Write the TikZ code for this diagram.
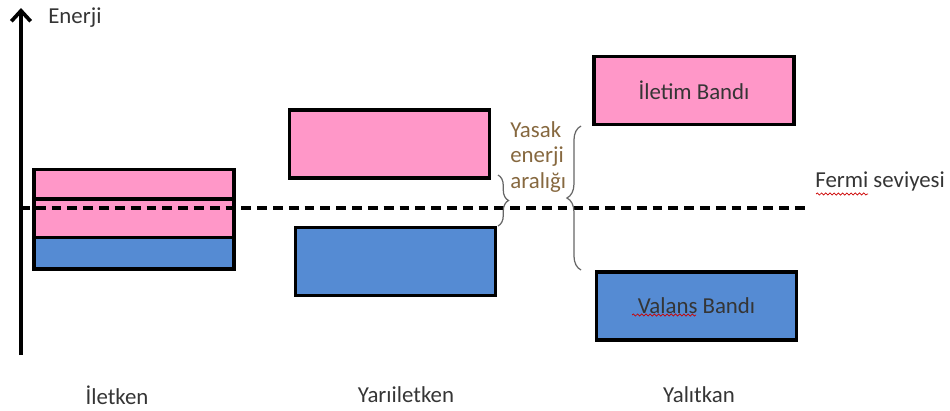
\documentclass[tikz,border=0pt]{standalone}
\usepackage{fontspec}
\setmainfont{Carlito}
\usetikzlibrary{arrows.meta,decorations.pathreplacing,decorations.pathmorphing}

\definecolor{cbpink}{HTML}{FF97C8}
\definecolor{vbblue}{HTML}{558BD3}
\definecolor{txtgray}{HTML}{353535}
\definecolor{gaptxt}{HTML}{86683F}

\tikzset{
  band/.style={draw, line width=2.2pt, minimum width=4cm, minimum height=1.36cm, inner sep=0pt},
  cband/.style={band, fill=cbpink},
  vband/.style={band, fill=vbblue},
  lbl/.style={font=\fontsize{13}{14.5}\selectfont, text=txtgray, inner sep=0pt},
  gapbrace/.style={decorate, draw=gray!80!black, line width=0.7pt},
  fermiline/.style={line width=2.3pt, dash pattern=on 5.6pt off 3.4pt},
  squiggle/.style={red!80!black, line width=0.4pt, decorate,
    decoration={snake, segment length=2.4pt, amplitude=0.6pt}}
}

\begin{document}
\begin{tikzpicture}[x=0.02cm, y=-0.02cm]
\useasboundingbox (0,0) rectangle (950,410);

% --- Energy axis ---
\coordinate (ax0) at (21,355);
\coordinate (ax1) at (21,8);
\draw[line width=2.1pt, -{Straight Barb[length=6pt, width=11pt]}] (ax0) -- (ax1);
\node[lbl, anchor=west] (enerji) at (48,18) {Enerji};

% --- Iletken: overlapping bands ---
\node[vband] (ib) at (134,235) {};
\node[cband] (ic) at (134,203.5) {};
\draw[line width=2.2pt] (ib.north west) -- (ib.north east);

% --- Yariiletken: small gap ---
\node[cband] (yc) at (389.5,144) {};
\node[vband] (yb) at (395.5,261.5) {};

% --- Yalitkan: wide gap ---
\node[cband] (tc) at (694,90.5) {};
\node[vband] (tb) at (696.5,306) {};
\node[lbl] (tcl) at (tc.center) {İletim Bandı};
\node[lbl] (tbl) at (tb.center) {Valans Bandı};

% --- Fermi level ---
\coordinate (f0) at (20,208);
\coordinate (f1) at (808,208);
\draw[fermiline] (f0) -- (f1);
\node[lbl, anchor=west] (fermi) at (815,181) {Fermi seviyesi};

% --- Forbidden gap braces ---
\coordinate (g0) at (498,175);
\coordinate (g1) at (498,226);
\draw[gapbrace, decoration={brace, amplitude=6pt}] (g0) -- (g1);
\coordinate (h0) at (581,270);
\coordinate (h1) at (581,126);
\draw[gapbrace, decoration={brace, amplitude=8pt}] (h0) -- (h1);
\node[lbl, text=gaptxt, align=left, anchor=west] (yasak) at (510,157)
  {Yasak\\enerji\\aralığı};

% --- spell-check marks ---
\draw[squiggle] (816,194) -- (868,194);
\draw[squiggle] (632,315) -- (696,315);

% --- Material names ---
\node[lbl] (iletken) at (117,395) {İletken};
\node[lbl] (yari) at (406,395) {Yarıiletken};
\node[lbl] (yalitkan) at (699,395) {Yalıtkan};

\end{tikzpicture}
\end{document}
